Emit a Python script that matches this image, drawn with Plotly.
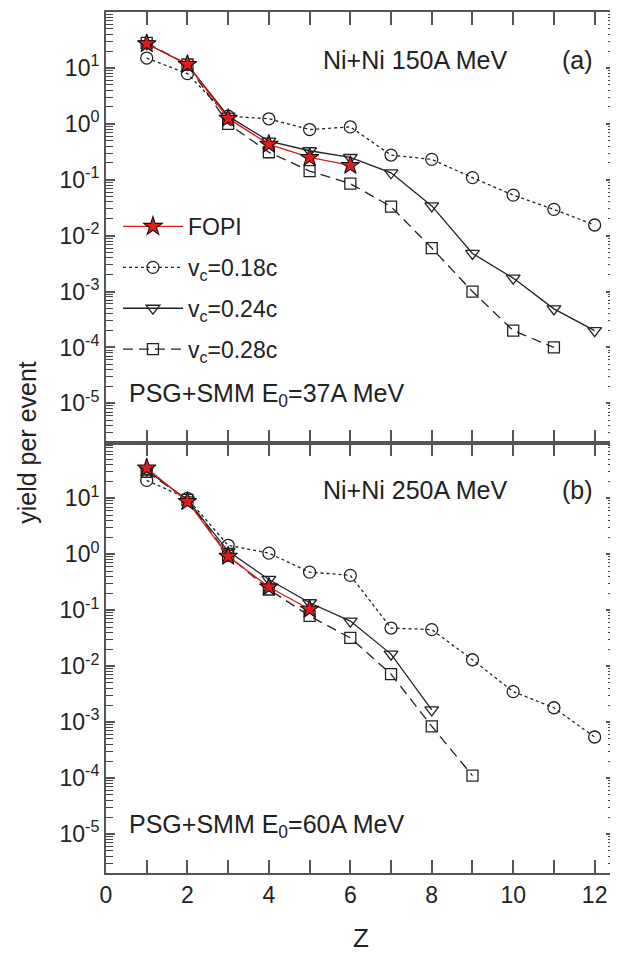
import plotly.graph_objects as go
from plotly.subplots import make_subplots

# ---------------- data ----------------
Z_a = [1, 2, 3, 4, 5, 6, 7, 8, 9, 10, 11, 12]
fopi_a_Z = [1, 2, 3, 4, 5, 6]
fopi_a = [27, 11.5, 1.25, 0.43, 0.25, 0.18]
vc018_a = [15, 7.9, 1.37, 1.23, 0.79, 0.88, 0.276, 0.231, 0.109, 0.053, 0.0295, 0.0155]
vc024_a = [27, 11.5, 1.37, 0.49, 0.33, 0.25, 0.133, 0.034, 0.0048, 0.00174, 0.00049, 0.0002]
Z_a28 = [1, 2, 3, 4, 5, 6, 7, 8, 9, 10, 11]
vc028_a = [28, 11.5, 1.0, 0.31, 0.143, 0.085, 0.033, 0.006, 0.001, 0.0002, 0.0001]

fopi_b_Z = [1, 2, 3, 4, 5]
fopi_b = [35, 8.8, 0.92, 0.26, 0.104]
Z_b18 = [1, 2, 3, 4, 5, 6, 7, 8, 9, 10, 11, 12]
vc018_b = [21, 10, 1.45, 1.05, 0.48, 0.42, 0.048, 0.045, 0.013, 0.0035, 0.0018, 0.00054]
Z_b24 = [1, 2, 3, 4, 5, 6, 7, 8]
vc024_b = [32, 9.4, 1.13, 0.355, 0.136, 0.064, 0.0164, 0.00165]
Z_b28 = [1, 2, 3, 4, 5, 6, 7, 8, 9]
vc028_b = [30, 9.4, 0.95, 0.235, 0.079, 0.032, 0.0072, 0.00084, 0.00011]

y_exps = [-5, -4, -3, -2, -1, 0, 1]
y_ticktext = ["10<sup>%d</sup>" % e for e in y_exps]

# ---------------- styling ----------------
FONT = "Liberation Sans, Arial, sans-serif"
AX = "#555555"
LC = "#222222"
OFF = 8  # page body margin offset

W, H = 618 - OFF, 953 - OFF
L, R, T, B = 106 - OFF, 617 - OFF, 12 - OFF, 873 - OFF
PW, PH = R - L, B - T

def px(x):
    return (x - OFF - L) / PW

def py(y):
    return (B - (y - OFF)) / PH

fig = make_subplots(rows=2, cols=1, shared_xaxes=True, vertical_spacing=0)

def add_panel(row, fz, fy, z18, y18, z24, y24, z28, y28, show):
    fig.add_trace(go.Scatter(x=z18, y=y18, mode="lines+markers", name="v<sub>c</sub>=0.18c",
                             line=dict(color=LC, width=1.3, dash="dot"),
                             marker=dict(symbol="circle-open", size=12, color=LC, line=dict(width=1.3)),
                             legendgroup="g2", legendrank=2, showlegend=show), row=row, col=1)
    fig.add_trace(go.Scatter(x=z24, y=y24, mode="lines+markers", name="v<sub>c</sub>=0.24c",
                             line=dict(color=LC, width=1.3),
                             marker=dict(symbol="triangle-down-open", size=12, color=LC, line=dict(width=1.3)),
                             legendgroup="g3", legendrank=3, showlegend=show), row=row, col=1)
    fig.add_trace(go.Scatter(x=z28, y=y28, mode="lines+markers", name="v<sub>c</sub>=0.28c",
                             line=dict(color=LC, width=1.3, dash="10px,6px"),
                             marker=dict(symbol="square-open", size=11, color=LC, line=dict(width=1.3)),
                             legendgroup="g4", legendrank=4, showlegend=show), row=row, col=1)
    fig.add_trace(go.Scatter(x=fz, y=fy, mode="lines+markers", name="FOPI",
                             line=dict(color="#e41a1a", width=1.3),
                             marker=dict(symbol="star", size=14, color="#e41a1a", line=dict(width=1.1, color="#111")),
                             legendgroup="g1", legendrank=1, showlegend=show), row=row, col=1)

add_panel(1, fopi_a_Z, fopi_a, Z_a, vc018_a, Z_a, vc024_a, Z_a28, vc028_a, True)
add_panel(2, fopi_b_Z, fopi_b, Z_b18, vc018_b, Z_b24, vc024_b, Z_b28, vc028_b, False)

fig.update_layout(template="simple_white")

for r in (1, 2):
    fig.update_yaxes(type="log", range=[-5.7, 2], tickmode="array",
                     tickvals=[10.0 ** e for e in y_exps], ticktext=y_ticktext,
                     ticks="inside", ticklen=9, tickwidth=2, tickcolor=AX,
                     minor=dict(ticks="inside", ticklen=7, tickwidth=1, tickcolor="#444444", dtick="D1"),
                     showline=True, linecolor=AX, linewidth=2, mirror="ticks",
                     row=r, col=1)
    fig.update_xaxes(range=[0, 12.5], tick0=0, dtick=2,
                     ticks="inside", ticklen=13, tickwidth=2, tickcolor=AX,
                     minor=dict(ticks="inside", ticklen=13, tickwidth=2, tickcolor=AX, dtick=1),
                     showline=True, linecolor=AX, linewidth=2, mirror="ticks",
                     row=r, col=1)
fig.update_xaxes(showticklabels=False, row=1, col=1)

ann_font = dict(family=FONT, size=25, color="#222")
annotations = [
    dict(text="Ni+Ni 150A MeV", x=416, y=60),
    dict(text="(a)", x=579, y=60),
    dict(text="Ni+Ni 250A MeV", x=416, y=490),
    dict(text="(b)", x=579, y=490),
]
for a in annotations:
    fig.add_annotation(text=a["text"], xref="paper", yref="paper", x=px(a["x"]), y=py(a["y"]),
                       xanchor="center", yanchor="middle", showarrow=False, font=ann_font)
for txt, yy in [("PSG+SMM E<sub>0</sub>=37A MeV", 395), ("PSG+SMM E<sub>0</sub>=60A MeV", 826)]:
    fig.add_annotation(text=txt, xref="paper", yref="paper", x=px(127), y=py(yy),
                       xanchor="left", yanchor="middle", showarrow=False, font=ann_font)

fig.add_annotation(text="yield per event", xref="paper", yref="paper", x=px(26), y=0.5,
                   textangle=-90, xanchor="center", yanchor="middle", showarrow=False,
                   font=dict(family=FONT, size=25, color="#222"))
fig.add_annotation(text="Z", xref="paper", yref="paper", x=px(362), y=py(938),
                   xanchor="center", yanchor="middle", showarrow=False,
                   font=dict(family=FONT, size=26, color="#222"))

fig.update_layout(
    width=W, height=H,
    margin=dict(l=L, r=W - R, t=T, b=H - B),
    font=dict(family=FONT, size=23, color="#222"),
    showlegend=True,
    legend=dict(x=px(118), y=py(205), xanchor="left", yanchor="top",
                bgcolor="rgba(0,0,0,0)", font=dict(family=FONT, size=23, color="#222"),
                tracegroupgap=8, itemwidth=60),
)

fig.write_html("out.html")
